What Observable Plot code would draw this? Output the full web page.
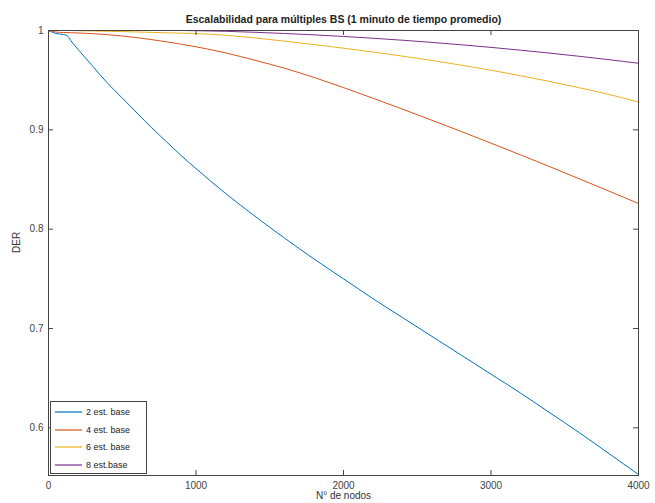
<!DOCTYPE html>
<html>
<head>
<meta charset="utf-8">
<script src="https://cdn.jsdelivr.net/npm/d3@7"></script>
<script src="https://cdn.jsdelivr.net/npm/@observablehq/plot@0.6"></script>
<style>
  html, body { margin: 0; padding: 0; background: #fff; }
  #wrap { position: relative; width: 655px; height: 503px; font-family: "Liberation Sans", Arial, sans-serif; }
  #legend { position: absolute; left: 50px; top: 401px; width: 95px; height: 71px; border: 1px solid #444; background: #fff; font-size: 9px; color: #222; }
  .entry { position: absolute; left: 4px; height: 12px; display: flex; align-items: center; }
  .entry svg { margin-right: 4px; display: block; }
</style>
</head>
<body>
<div id="wrap"></div>
<script>
const title = "Escalabilidad para múltiples BS (1 minuto de tiempo promedio)";
const xLabel = "N° de nodos";
const yLabel = "DER";
const seriesNames = ["2 est. base", "4 est. base", "6 est. base", "8 est.base"];
const seriesColors = ["#0072BD", "#D95319", "#EDB120", "#7E2F8E"];
const xTicks = [0, 1000, 2000, 3000, 4000];
const yTicks = [0.6, 0.7, 0.8, 0.9, 1];

const nodes = [0, 50, 100, 125, 150, 200, 300, 400, 500, 600, 700, 800, 900, 1000,
  1200, 1400, 1600, 1800, 2000, 2200, 2400, 2600, 2800, 3000, 3200, 3400, 3600, 3800, 4000];
const der2 = [1.000, 0.997, 0.996, 0.995, 0.990, 0.981, 0.964, 0.947, 0.932, 0.917, 0.902, 0.888, 0.874, 0.861,
  0.836, 0.813, 0.791, 0.770, 0.750, 0.730, 0.711, 0.692, 0.673, 0.654, 0.635, 0.615, 0.595, 0.574, 0.553];
const der4 = [1.000, 0.9985, 0.998, 0.998, 0.9978, 0.9975, 0.9968, 0.9958, 0.9945, 0.9928, 0.9908, 0.9886, 0.9862, 0.9836,
  0.9775, 0.9700, 0.9620, 0.9527, 0.9425, 0.9318, 0.9208, 0.9096, 0.8982, 0.8866, 0.8748, 0.8628, 0.8506, 0.8383, 0.8258];
const der6 = [1.000, 1.000, 1.000, 1.000, 1.000, 0.9998, 0.9995, 0.9992, 0.9989, 0.9985, 0.9981, 0.9977, 0.9973, 0.9969,
  0.9952, 0.9925, 0.9893, 0.9858, 0.9822, 0.9783, 0.9742, 0.9698, 0.9651, 0.9600, 0.9545, 0.9486, 0.9423, 0.9356, 0.9280];
const der8 = [1.000, 1.000, 1.000, 1.000, 1.000, 1.000, 1.000, 1.000, 1.000, 1.000, 1.000, 1.000, 1.000, 0.9998,
  0.9992, 0.9982, 0.9970, 0.9956, 0.9940, 0.9922, 0.9902, 0.9880, 0.9856, 0.9830, 0.9802, 0.9772, 0.9740, 0.9706, 0.9670];

const allSeries = [der2, der4, der6, der8];
const rows = [];
allSeries.forEach((vals, i) => vals.forEach((v, j) => rows.push({series: seriesNames[i], x: nodes[j], y: v})));

const W = 655, H = 503;
const mT = 30, mB = 28, mL = 48, mR = 17;
const innerH = H - mT - mB, innerW = W - mL - mR;
const tk = 5;
const axisColor = "#444";

const chart = Plot.plot({
  width: W, height: H,
  marginTop: mT, marginBottom: mB, marginLeft: mL, marginRight: mR,
  style: {fontFamily: "'Liberation Sans', Arial, sans-serif", background: "#fff"},
  x: {domain: [0, 4000]},
  y: {domain: [0.552, 1]},
  color: {domain: seriesNames, range: seriesColors},
  marks: [
    Plot.line(rows, {x: "x", y: "y", z: "series", stroke: "series", strokeWidth: 1, curve: "monotone-x"}),
    Plot.frame({stroke: axisColor, strokeWidth: 1}),
    Plot.tickX(xTicks, {x: d => d, insetTop: innerH - tk, stroke: axisColor}),
    Plot.tickX(xTicks, {x: d => d, insetBottom: innerH - tk, stroke: axisColor}),
    Plot.tickY(yTicks, {y: d => d, insetRight: innerW - tk, stroke: axisColor}),
    Plot.tickY(yTicks, {y: d => d, insetLeft: innerW - tk, stroke: axisColor}),
    Plot.axisX(xTicks, {tickSize: 0, tickPadding: 6, fontSize: 10, fill: axisColor, label: null, tickFormat: d => String(d)}),
    Plot.axisY(yTicks, {tickSize: 0, tickPadding: 5, fontSize: 10, fill: axisColor, label: null, tickFormat: d => String(d)}),
    Plot.text([xLabel], {text: d => d, frameAnchor: "bottom", dy: 23, fontSize: 10, fill: "#333"}),
    Plot.text([yLabel], {text: d => d, frameAnchor: "left", dx: -32, rotate: -90, fontSize: 10, fill: "#333"}),
    Plot.text([title], {text: d => d, frameAnchor: "top", dy: -15, fontSize: 10.5, fontWeight: "bold", fill: "#222"})
  ]
});

const wrap = document.getElementById("wrap");
wrap.appendChild(chart);

const legend = document.createElement("div");
legend.id = "legend";
seriesNames.forEach((name, i) => {
  const e = document.createElement("div");
  e.className = "entry";
  e.style.top = Math.round(4 + i * 17.6) + "px";
  const ns = "http://www.w3.org/2000/svg";
  const sw = document.createElementNS(ns, "svg");
  sw.setAttribute("width", "27");
  sw.setAttribute("height", "4");
  const ln = document.createElementNS(ns, "line");
  ln.setAttribute("x1", "0"); ln.setAttribute("x2", "27");
  ln.setAttribute("y1", "2"); ln.setAttribute("y2", "2");
  ln.setAttribute("stroke", seriesColors[i]);
  ln.setAttribute("stroke-width", "1.2");
  sw.appendChild(ln);
  const t = document.createElement("span");
  t.textContent = name;
  e.appendChild(sw);
  e.appendChild(t);
  legend.appendChild(e);
});
wrap.appendChild(legend);
</script>
</body>
</html>
